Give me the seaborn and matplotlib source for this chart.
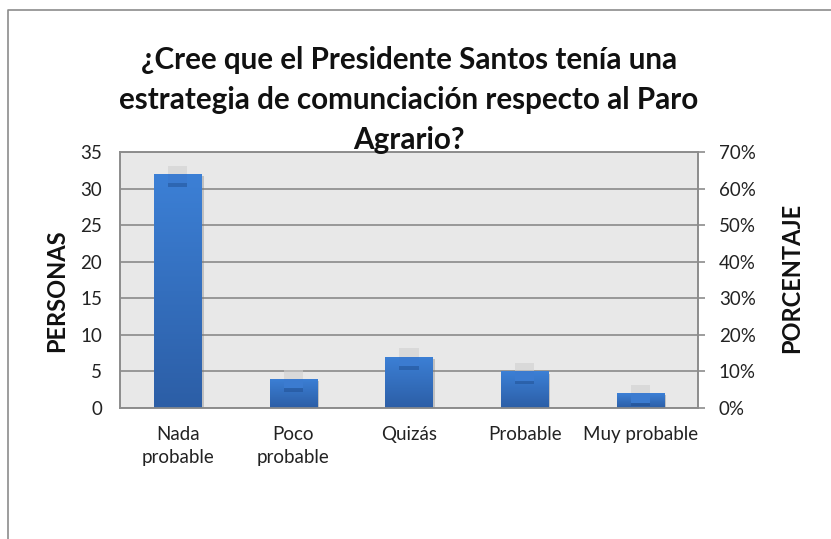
import numpy as np
import matplotlib
matplotlib.use("Agg")
import matplotlib.pyplot as plt
import matplotlib.patheffects as pe
from matplotlib.lines import Line2D
import seaborn as sns
import pandas as pd

categorias = ["Nada\nprobable", "Poco\nprobable", "Quizás", "Probable", "Muy probable"]
personas = [32, 4, 7, 5, 2]
porcentaje = [64, 8, 14, 10, 4]
titulo = "¿Cree que el Presidente Santos tenía una\nestrategia de comunciación respecto al Paro\nAgrario?"
y_ticks = [0, 5, 10, 15, 20, 25, 30, 35]
y2_ticks = [0, 10, 20, 30, 40, 50, 60, 70]

sns.set_theme(style="white")
plt.rcParams['font.family'] = ['Lato', 'DejaVu Sans']

fig = plt.figure(figsize=(8.31, 5.39), dpi=100)
ax = fig.add_axes([120/831, 1-408/539, 578/831, 256/539])
df = pd.DataFrame({"cat": categorias, "val": personas})
sns.barplot(data=df, x="cat", y="val", ax=ax, width=0.41, color="#3570c0",
            saturation=1, zorder=3)
ax.set_facecolor("#e8e8e8")
ax.set_ylim(0, 35)
ax.set_yticks(y_ticks)
ax.set_xlim(-0.5, len(categorias)-0.5)
ax.grid(axis="y", color="#8a8a8a", linewidth=1.2, zorder=1)
ax.set_axisbelow(True)
for s in ax.spines.values():
    s.set_color("#8c8c8c")
    s.set_linewidth(1.2)
ax.tick_params(axis="y", length=0, pad=13, labelsize=13.5, labelcolor="#222222")
ax.tick_params(axis="x", length=0, pad=13, labelsize=13.5, labelcolor="#222222")
for t in ax.get_xticklabels():
    t.set_linespacing(1.4)
    t.set_va("top")
ax.set_xlabel("")
ax.set_ylabel("PERSONAS", fontsize=17, fontweight="bold", color="#111111")
ax.yaxis.set_label_coords(-0.0895, 0.457)

# gradient fill for main bars
grad = np.linspace(0, 1, 256).reshape(-1, 1)
cmap = matplotlib.colors.LinearSegmentedColormap.from_list("g", ["#2c5ea6", "#3c80d6"])
for p in list(ax.patches):
    x0, y0 = p.get_x(), p.get_y()
    w, h = p.get_width(), p.get_height()
    p.set_facecolor("none")
    p.set_edgecolor("none")
    p.set_path_effects([pe.SimplePatchShadow(offset=(1.5, -1.5), shadow_rgbFace="#777777", alpha=0.35)])
    im = ax.imshow(grad, extent=[x0, x0+w, y0, y0+h], origin="lower", cmap=cmap,
                   aspect="auto", zorder=3)
    im.set_clip_path(p)
ax.set_xlim(-0.5, len(categorias)-0.5)
ax.set_ylim(0, 35)

ax2 = ax.twinx()
ax2.set_ylim(0, 70)
ax2.set_yticks(y2_ticks)
ax2.set_yticklabels([f"{v}%" for v in y2_ticks])
ax2.tick_params(axis="y", length=5, width=1.2, color="#8c8c8c", pad=10, labelsize=13.5,
                labelcolor="#222222")
for s in ax2.spines.values():
    s.set_color("#8c8c8c")
    s.set_linewidth(1.2)
ax2.set_ylabel("PORCENTAJE", fontsize=17, fontweight="bold", color="#111111")
ax2.yaxis.set_label_coords(1.142, 0.508)
tab = 2.6
xs = np.arange(len(categorias))
bars2 = ax2.bar(xs, [tab]*len(porcentaje), bottom=[v - tab for v in porcentaje], width=0.165,
                color="#3b7bd0", edgecolor="none", linewidth=0, zorder=4)
for b in bars2:
    b.set_path_effects([
        pe.SimplePatchShadow(offset=(0, 6), shadow_rgbFace="#cfcfcf", alpha=0.6),
        pe.SimplePatchShadow(offset=(0, -2.5), shadow_rgbFace="#1d4a8a", alpha=0.45),
        pe.Normal()])

fig.text(409/831, 1-46/539, titulo, ha="center", va="top", fontsize=21.3, fontweight="bold",
         linespacing=1.52, color="#111111")

# outer chart border
fig.add_artist(Line2D([8/831, 8/831, 1.0], [0.0, 1-10/539, 1-10/539], transform=fig.transFigure,
                      color="#8c8c8c", linewidth=1.2))

fig.savefig("out.png", dpi=100)
